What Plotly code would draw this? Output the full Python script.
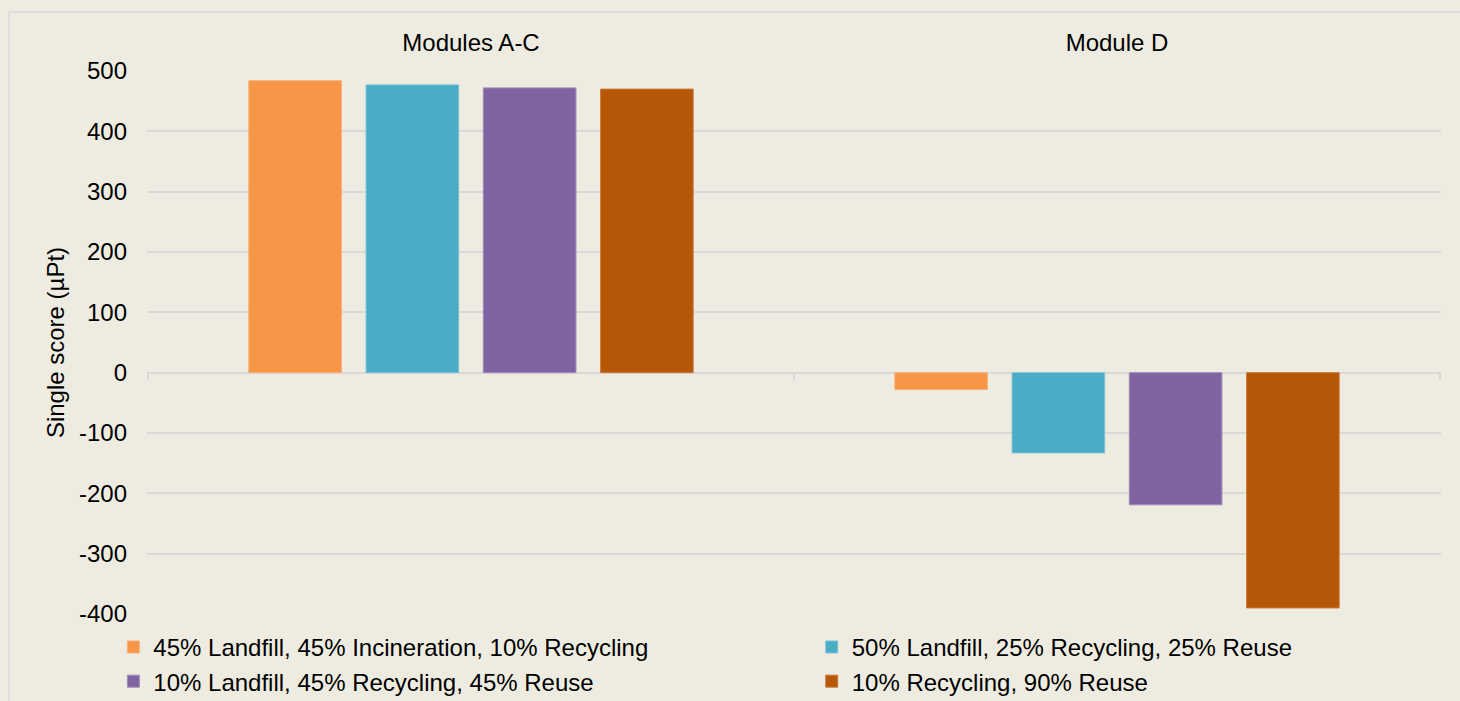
import plotly.graph_objects as go

categories = ["Modules A-C", "Module D"]
series_names = [
    "45% Landfill, 45% Incineration, 10% Recycling",
    "50% Landfill, 25% Recycling, 25% Reuse",
    "10% Landfill, 45% Recycling, 45% Reuse",
    "10% Recycling, 90% Reuse",
]
s1 = [484, -28]
s2 = [477, -133]
s3 = [472, -219]
s4 = [470, -390]
colors = ["#F79646", "#4BACC6", "#8064A2", "#B65708"]
edge_colors = ["#F9B07A", "#7CC3D6", "#A08BBB", "#CC7A3A"]
legend_ids = ["legend", "legend2", "legend", "legend2"]
y_ticks = [-400, -300, -200, -100, 0, 100, 200, 300, 400, 500]
y_tick_text = [str(v) for v in y_ticks]

fig = go.Figure()
for name, vals, c, ec, lg in zip(series_names, [s1, s2, s3, s4], colors, edge_colors, legend_ids):
    fig.add_trace(go.Bar(x=categories, y=vals, name=name, legend=lg,
                         marker=dict(color=c, line=dict(color=ec, width=1))))

font = "Liberation Sans, Arial, sans-serif"
fs = 24
legend_common = dict(orientation="v", yanchor="top", y=-0.02, xanchor="left",
                     font=dict(size=fs, family=font, color="#000000"),
                     itemwidth=30, tracegroupgap=0, bgcolor="rgba(0,0,0,0)",
                     traceorder="normal")
fig.update_layout(
    width=1460, height=701,
    paper_bgcolor="#EEECE1", plot_bgcolor="#EEECE1",
    font=dict(family=font, size=fs, color="#000000"),
    margin=dict(l=147, r=19, t=71, b=87, autoexpand=False),
    barmode="group", bargap=0.274, bargroupgap=0.21,
    xaxis=dict(side="top", showgrid=False, showline=False, ticks="",
               zeroline=False, tickfont=dict(size=fs), ticklabelstandoff=14),
    yaxis=dict(range=[-400, 500], tickvals=y_ticks, ticktext=y_tick_text, showgrid=True,
               gridcolor="#D9D9D9", gridwidth=1.5, zeroline=True,
               zerolinecolor="#D9D9D9", zerolinewidth=2, showline=False,
               ticks="", ticklen=0, tickfont=dict(size=fs), ticklabelstandoff=19,
               title=dict(text="Single score (µPt)", font=dict(size=fs), standoff=7)),
    legend=dict(x=-0.026, **legend_common),
    legend2=dict(x=0.5137, **legend_common),
    showlegend=True,
)

# tick marks at category boundaries along the zero line
shapes = []
for xb in [-0.5, 0.5, 1.5]:
    shapes.append(dict(type="line", xref="x", yref="y", x0=xb, x1=xb, y0=0, y1=-12,
                       line=dict(color="#D9D9D9", width=2)))
# outer chart border (top and left)
shapes.append(dict(type="line", xref="paper", yref="paper", x0=-0.1066, x1=1.02,
                   y0=1.1087, y1=1.1087, line=dict(color="#D9D9D9", width=1.5)))
shapes.append(dict(type="line", xref="paper", yref="paper", x0=-0.1066, x1=-0.1066,
                   y0=1.1087, y1=-0.2, line=dict(color="#D9D9D9", width=1.5)))
fig.update_layout(shapes=shapes)

fig.write_html("out.html", config={"displayModeBar": False},
               post_script="document.body.style.margin='0';")
